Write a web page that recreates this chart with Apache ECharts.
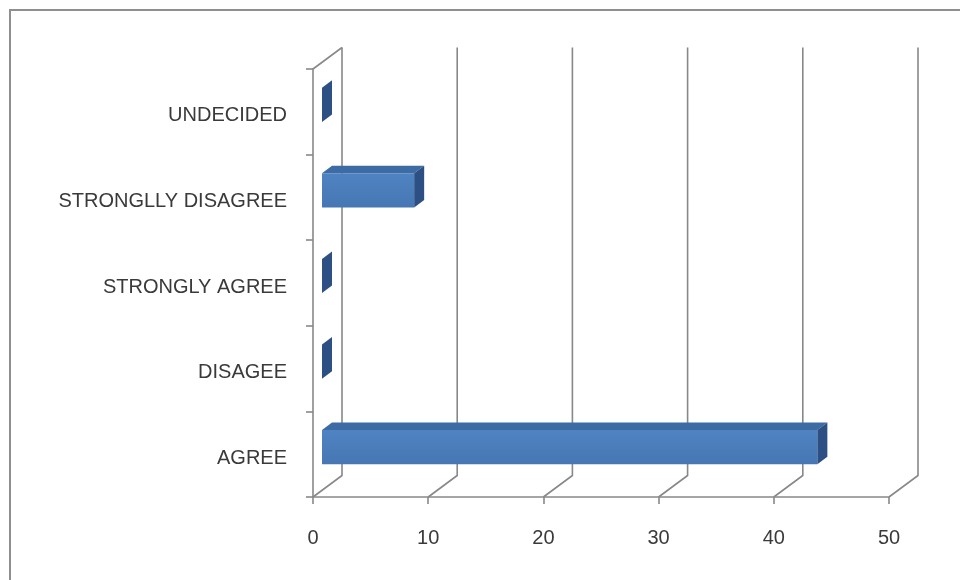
<!DOCTYPE html>
<html>
<head>
<meta charset="utf-8">
<title>Responses</title>
<script src="https://cdn.jsdelivr.net/npm/echarts@6/dist/echarts.min.js"></script>
<style>
  html, body { margin: 0; padding: 0; background: #ffffff; }
  #chart { width: 960px; height: 580px; }
</style>
</head>
<body>
<div id="chart"></div>
<script>
// Response categories (bottom to top) and the count for each
const categories = ['AGREE', 'DISAGEE', 'STRONGLY AGREE', 'STRONGLLY DISAGREE', 'UNDECIDED'];
const values = [43, 0, 0, 8, 0];
// Value-axis tick marks
const xTicks = [0, 10, 20, 30, 40, 50];

// 3D projection: depth of the floor/wall, placement and depth of the bars
const DEPTH_X = 29, DEPTH_Y = -21.5;
const FRONT_X = 9, FRONT_Y = -7;
const BAR_DX = 10, BAR_DY = -7.5;
const GRID_COLOR = '#888888';

// Back wall gridlines and floor diagonals for each tick
function renderFrame(params, api) {
  const cs = params.coordSys;
  const v = api.value(0);
  const x = api.coord([v, 0])[0];
  const top = cs.y, bottom = cs.y + cs.height;
  const style = { stroke: GRID_COLOR, lineWidth: 1.6, fill: null };
  const children = [{
    type: 'polyline',
    shape: { points: [[x, bottom], [x + DEPTH_X, bottom + DEPTH_Y], [x + DEPTH_X, top + DEPTH_Y]] },
    style: style
  }];
  if (v === 0) {
    // top edge of the side wall
    children.push({
      type: 'line',
      shape: { x1: x, y1: top, x2: x + DEPTH_X, y2: top + DEPTH_Y },
      style: style
    });
  }
  return { type: 'group', children: children };
}

// Extruded horizontal bar: front face, top face and right side face
function renderBar(params, api) {
  const v = api.value(0), idx = api.value(1);
  const p0 = api.coord([0, idx]);
  const p1 = api.coord([v, idx]);
  const band = api.size([0, 1])[1];
  const h = band * 0.4;
  const x0 = p0[0] + FRONT_X, x1 = p1[0] + FRONT_X;
  const yTop = p0[1] + FRONT_Y - h / 2, yBot = yTop + h;
  const children = [];
  if (x1 - x0 > 0.5) {
    children.push({
      type: 'polygon',
      shape: { points: [[x0, yTop], [x1, yTop], [x1 + BAR_DX, yTop + BAR_DY], [x0 + BAR_DX, yTop + BAR_DY]] },
      style: { fill: '#3d6ba4' }
    });
    children.push({
      type: 'rect',
      shape: { x: x0, y: yTop, width: x1 - x0, height: h },
      style: {
        fill: new echarts.graphic.LinearGradient(0, 0, 0, 1, [
          { offset: 0, color: '#4f83c1' },
          { offset: 1, color: '#4677b4' }
        ])
      }
    });
  }
  children.push({
    type: 'polygon',
    shape: { points: [[x1, yTop], [x1 + BAR_DX, yTop + BAR_DY], [x1 + BAR_DX, yBot + BAR_DY], [x1, yBot]] },
    style: { fill: '#2c5084' }
  });
  return { type: 'group', children: children };
}

const labelFont = { fontFamily: 'Liberation Sans', fontSize: 20, color: '#3a3a3a' };

const option = {
  backgroundColor: '#ffffff',
  animation: false,
  grid: { left: 313, top: 69, width: 576, height: 428 },
  xAxis: {
    type: 'value',
    min: 0,
    max: 50,
    interval: 10,
    axisLine: { show: true, lineStyle: { color: GRID_COLOR, width: 1.6 } },
    axisTick: { show: true, length: 7, lineStyle: { color: GRID_COLOR, width: 1.6 } },
    splitLine: { show: false },
    axisLabel: Object.assign({ margin: 31 }, labelFont)
  },
  yAxis: {
    type: 'category',
    data: categories,
    axisLine: { show: true, lineStyle: { color: GRID_COLOR, width: 1.6 } },
    axisTick: { show: true, length: 7, lineStyle: { color: GRID_COLOR, width: 1.6 } },
    splitLine: { show: false },
    axisLabel: {
      margin: 26,
      formatter: function (v) { return '{c|' + v + '}'; },
      rich: {
        c: Object.assign({ padding: [8, 0, 0, 0] }, labelFont)
      }
    }
  },
  graphic: [{
    type: 'rect',
    shape: { x: 10, y: 10, width: 1000, height: 1000 },
    style: { fill: null, stroke: '#8f8f8f', lineWidth: 2 },
    silent: true
  }],
  series: [
    {
      type: 'custom',
      silent: true,
      z: 1,
      data: xTicks.map(function (v) { return [v, 0]; }),
      renderItem: renderFrame
    },
    {
      type: 'custom',
      z: 3,
      data: values.map(function (v, i) { return [v, i]; }),
      renderItem: renderBar
    }
  ]
};

const chart = echarts.init(document.getElementById('chart'), null, { renderer: 'canvas' });
chart.setOption(option);
</script>
</body>
</html>
